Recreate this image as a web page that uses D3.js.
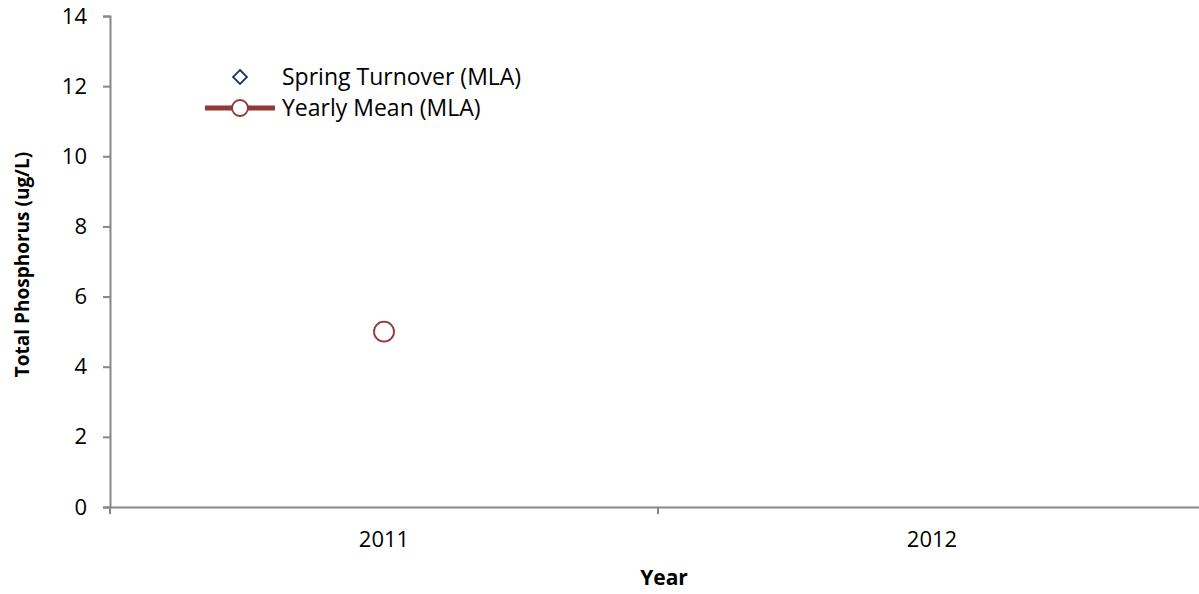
<!DOCTYPE html>
<html>
<head>
    <meta charset="utf-8">
    <style>
        body { margin: 0; background: #fff; }
        svg, svg text { font-family: 'Open Sans', 'Noto Sans', sans-serif; }
        .axis .domain { stroke: #878787; stroke-width: 2; }
        .axis .tick line { stroke: #878787; stroke-width: 2; }
        .axis .tick text { font-size: 22px; fill: #000; font-family: 'Open Sans', sans-serif; }
        .axis-title { font-size: 19px; font-weight: bold; }
        .legend text { font-size: 23px; }
    </style>
</head>
<body>
<svg width="1199" height="594"></svg>

<script src="https://d3js.org/d3.v7.min.js"></script>
<script>
    let width = 1199;
    let height = 594;
    let margin = { top: 16, right: -7, bottom: 87, left: 110 };

    // data
    let years = ["2011", "2012"];
    let springTurnover = [null, null];   // no values shown
    let yearlyMean = [5, null];
    let yTicks = [0, 2, 4, 6, 8, 10, 12, 14];

    let svg = d3.select("svg");

    let xScale = d3.scaleBand()
        .domain(years)
        .range([margin.left, width - margin.right])
        .padding(0);

    let yScale = d3.scaleLinear()
        .domain([0, 14])
        .range([height - margin.bottom, margin.top]);

    // y axis
    let yAxis = svg.append("g")
        .attr("class", "axis y")
        .attr("transform", `translate(${margin.left},0)`)
        .call(d3.axisLeft(yScale).tickValues(yTicks).tickSize(7).tickSizeOuter(7).tickPadding(16));

    // x axis (labels centered in band, ticks on band edges)
    let xAxis = svg.append("g")
        .attr("class", "axis x")
        .attr("transform", `translate(0,${height - margin.bottom})`)
        .call(d3.axisBottom(xScale).tickSize(0).tickSizeOuter(0).tickPadding(24));

    let edges = years.map(d => xScale(d)).concat([xScale(years[years.length - 1]) + xScale.step()]);
    xAxis.selectAll(".edge")
        .data(edges)
        .enter().append("line")
        .attr("class", "edge")
        .attr("x1", d => d).attr("x2", d => d)
        .attr("y1", 0).attr("y2", 7)
        .style("stroke", "#878787")
        .style("stroke-width", 2);

    // axis titles
    svg.append("text")
        .attr("class", "axis-title")
        .attr("transform", `translate(29,${(margin.top + height - margin.bottom) / 2 + 3}) rotate(-90)`)
        .attr("text-anchor", "middle")
        .text("Total Phosphorus (ug/L)");

    svg.append("text")
        .attr("class", "axis-title")
        .attr("x", 664)
        .attr("y", 585)
        .attr("text-anchor", "middle")
        .style("font-size", "21px")
        .text("Year");

    let meanPts = years.map((d, i) => ({ year: d, value: yearlyMean[i] })).filter(d => d.value != null);
    let springPts = years.map((d, i) => ({ year: d, value: springTurnover[i] })).filter(d => d.value != null);
    let cx = d => xScale(d.year) + xScale.bandwidth() / 2;

    // yearly mean line + markers
    let line = d3.line().x(cx).y(d => yScale(d.value));
    svg.append("path")
        .datum(meanPts)
        .attr("d", line)
        .style("fill", "none")
        .style("stroke", "#953735")
        .style("stroke-width", 5);

    svg.selectAll(".mean")
        .data(meanPts)
        .enter().append("circle")
        .attr("class", "mean")
        .attr("cx", cx)
        .attr("cy", d => yScale(d.value))
        .attr("r", 10)
        .style("fill", "#fff")
        .style("stroke", "#953735")
        .style("stroke-width", 1.8);

    svg.selectAll(".spring")
        .data(springPts)
        .enter().append("path")
        .attr("class", "spring")
        .attr("transform", d => `translate(${cx(d)},${yScale(d.value)})`)
        .attr("d", d3.symbol(d3.symbolDiamond2, 100))
        .style("fill", "#fff")
        .style("stroke", "#1f3864")
        .style("stroke-width", 1.8);

    // legend
    let legend = svg.append("g").attr("class", "legend");
    legend.append("path")
        .attr("transform", "translate(240,77)")
        .attr("d", "M0,-7L7,0L0,7L-7,0Z")
        .style("fill", "#fff")
        .style("stroke", "#1f3864")
        .style("stroke-width", 1.8);
    legend.append("text").attr("x", 282).attr("y", 85).text("Spring Turnover (MLA)");

    legend.append("line")
        .attr("x1", 205).attr("x2", 275).attr("y1", 108).attr("y2", 108)
        .style("stroke", "#953735").style("stroke-width", 5);
    legend.append("circle")
        .attr("cx", 240).attr("cy", 108).attr("r", 8)
        .style("fill", "#fff").style("stroke", "#953735").style("stroke-width", 1.8);
    legend.append("text").attr("x", 282).attr("y", 116).text("Yearly Mean (MLA)");
</script>
</body>
</html>
